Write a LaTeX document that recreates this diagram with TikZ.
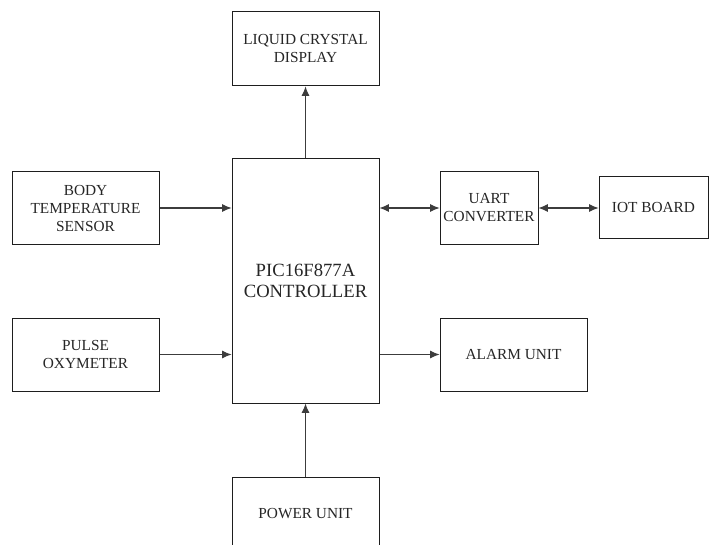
\documentclass[tikz,border=0pt]{standalone}
\usepackage{fontspec}
\setmainfont{Liberation Serif}
\usetikzlibrary{arrows.meta,calc}
\definecolor{boxline}{RGB}{30,30,30}
\definecolor{linkgray}{RGB}{60,60,60}

\begin{document}
\begin{tikzpicture}[
  x=.75pt,y=-.75pt,
  every node/.style={font=\fontsize{11.5}{13.5}\selectfont,text=black!85},
  block/.style={draw=boxline,line width=.75pt,rectangle,align=center,inner sep=1pt,
    minimum width=110.25pt},
  link/.style={-{Latex[length=7pt,width=6pt]},line width=.75pt,linkgray},
  both/.style={{Latex[length=7pt,width=6pt]}-{Latex[length=7pt,width=6pt]},line width=.75pt,linkgray}
]
\path[use as bounding box] (0,0) rectangle (709,545);
\fill[white] (0,0) rectangle (709,545);
\clip (0,0) rectangle (709,545);

% Controller in the middle, inputs on the left, outputs on the right.
\node[block,minimum height=183pt,font=\fontsize{14}{15.5}\selectfont] (ctrl) at (305.5,281) {PIC16F877A\\CONTROLLER};
\node[block,minimum height=55.5pt] (lcd) at (305.5,49) {LIQUID CRYSTAL\\DISPLAY};
\node[block,minimum height=54pt] (body) at (85.5,208) {BODY\\TEMPERATURE\\SENSOR};
\node[block,minimum height=54.75pt] (pulse) at (85.5,354.5) {PULSE\\OXYMETER};
\node[block,minimum width=73.5pt,minimum height=54pt] (uart) at (489,208) {UART\\CONVERTER};
\node[block,minimum width=81.75pt,minimum height=45.75pt] (iot) at (653.5,207.5) {IOT BOARD};
\node[block,minimum height=54.75pt] (alarm) at (513.5,354.5) {ALARM UNIT};
% The power unit runs past the lower edge of the page.
\node[block,minimum height=55.5pt] (power) at (305.5,514) {POWER UNIT};

\draw[link] (ctrl.north) -- (lcd.south);
\draw[link] (body.east) -- (body.east -| ctrl.west);
\draw[link] (pulse.east) -- (pulse.east -| ctrl.west);
\draw[both] (uart.west -| ctrl.east) -- (uart.west);
\draw[both] (uart.east) -- (uart.east -| iot.west);
\draw[link] (alarm.west -| ctrl.east) -- (alarm.west);
\draw[link] (power.north) -- (ctrl.south);
\end{tikzpicture}
\end{document}
